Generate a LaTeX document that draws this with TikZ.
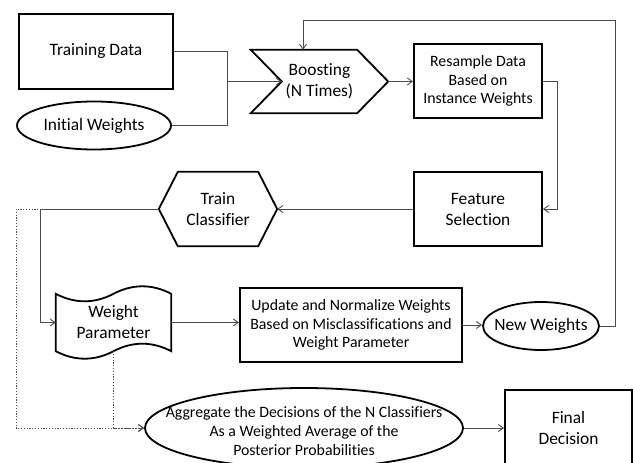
\documentclass[tikz,border=0pt]{standalone}
\usepackage{fontspec}
\setmainfont{Carlito}[Ligatures=NoCommon]
\usetikzlibrary{arrows.meta,shapes.geometric}
\begin{document}
\begin{tikzpicture}[x=1pt,y=-1pt,
  big/.style={font=\fontsize{17.4}{21}\selectfont, align=center, inner sep=0pt},
  small/.style={font=\fontsize{15.8}{18.7}\selectfont, align=center, inner sep=0pt},
  rbox/.style={draw=black, line width=1.8pt, rectangle},
  oval/.style={draw=black, line width=1.8pt, ellipse, inner sep=0pt},
  plain/.style={rectangle, inner sep=0pt},
  border/.style={draw=black, line width=1.8pt, line join=miter},
  conn/.style={draw=black!70, line width=0.9pt},
  arr/.style={conn, -{Straight Barb[length=5pt,width=7pt]}},
  dotarr/.style={conn, dash pattern=on 1.2pt off 1.6pt, -{Straight Barb[length=5pt,width=7pt]}}
]
\useasboundingbox (0,0) rectangle (633,463);
\clip (0,0) rectangle (633,463);

% Training data and initial weights
\node[rbox,big,minimum width=154pt,minimum height=75pt] (td) at (96,51.5) {Training Data};
\node[oval,minimum width=154pt,minimum height=48pt] (iw) at (94,125.5) {};
\node[big] (iwt) at (94,125.5) {Initial Weights};

% Boosting
\node[plain,big,minimum width=137pt,minimum height=63pt] (boost) at (319.5,81.5) {Boosting\\(N Times)};
\draw[border] (boost.north west) -- ([xshift=-31pt]boost.north east) -- (boost.east)
  -- ([xshift=-31pt]boost.south east) -- (boost.south west) -- ([xshift=31pt]boost.west) -- cycle;
\coordinate (notch) at ([xshift=31pt]boost.west);
\coordinate (bt) at ([xshift=-16.5pt]boost.north);

% Resample and Feature selection
\node[rbox,small,minimum width=128pt,minimum height=74pt] (rs) at (478,81) {Resample Data\\Based on\\Instance Weights};
\node[rbox,big,minimum width=128pt,minimum height=74pt] (fs) at (478,209) {Feature\\Selection};

% Train classifier (hexagon)
\node[plain,big,minimum width=118pt,minimum height=74pt] (tc) at (218,209) {Train\\Classifier};
\draw[border] ([xshift=19pt]tc.north west) -- ([xshift=-19pt]tc.north east) -- (tc.east)
  -- ([xshift=-19pt]tc.south east) -- ([xshift=19pt]tc.south west) -- (tc.west) -- cycle;

% Weight parameter (punched tape)
\node[plain,big,minimum width=115pt,minimum height=57pt] (wp) at (113.5,322.5) {Weight\\Parameter};
\draw[border] (wp.north west) .. controls +(19,10) and +(-19,10) .. (wp.north)
  .. controls +(19,-10) and +(-19,-10) .. (wp.north east) -- (wp.south east)
  .. controls +(-19,-10) and +(19,-10) .. (wp.south)
  .. controls +(-19,10) and +(19,10) .. (wp.south west) -- cycle;

% Update box and new weights
\node[rbox,small,minimum width=222pt,minimum height=74pt] (up) at (351,325) {Update and Normalize Weights\\Based on Misclassifications and\\Weight Parameter};
\node[oval,minimum width=116pt,minimum height=48pt] (nw) at (541,326) {};
\node[big] (nwt) at (541,326) {New Weights};

% Aggregate and final decision
\node[oval,minimum width=318pt,minimum height=80pt] (ag) at (304,428) {};
\node[small] (agt) at (304,431) {Aggregate the Decisions of the N Classifiers\\As a Weighted Average of the\\Posterior Probabilities};
\node[rbox,big,minimum width=127pt,minimum height=76pt] (fd) at (568.5,428) {Final\\Decision};

% Connectors
\coordinate (j) at (227,81.5);
\draw[conn] (td.east) -| (j);
\draw[conn] (iw.east) -| (j);
\draw[arr] (j) -- (notch);
\draw[arr] (boost.east) -- (boost.east -| rs.west);
\draw[arr] (rs.east) -- ++(15,0) |- (fs.east);
\draw[arr] (fs.west) -- (tc.east);
\coordinate (dl) at (16,209);
\coordinate (sl) at (40,209);
\draw[dotarr] (tc.west) -- (dl) |- (ag.west);
\draw[dotarr] (wp.south) |- (ag.west);
\draw[arr] (tc.west) -- (sl) |- (wp.west);
\draw[arr] (wp.east) -- (wp.east -| up.west);
\draw[arr] (up.east) -- (up.east -| nw.west);
\coordinate (tr) at (615,20);
\draw[arr] (nw.east) -| (tr) -| (bt);
\draw[arr] (ag.east) -- (ag.east -| fd.west);
\end{tikzpicture}
\end{document}
